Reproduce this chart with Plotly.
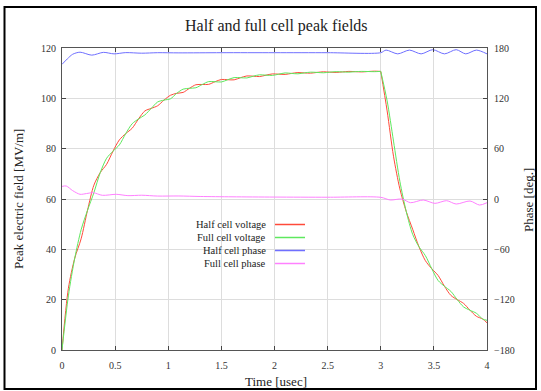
import plotly.graph_objects as go

# ---------------- data ----------------
time_v = [0.00, 0.06, 0.12, 0.18, 0.24, 0.30, 0.36, 0.42, 0.48, 0.54,
          0.60, 0.66, 0.72, 0.78, 0.84, 0.90, 0.96, 1.02, 1.08, 1.14,
          1.20, 1.26, 1.32, 1.38, 1.44, 1.50, 1.56, 1.62, 1.68, 1.74,
          1.80, 1.86, 1.92, 1.98, 2.04, 2.10, 2.16, 2.22, 2.28, 2.34,
          2.40, 2.46, 2.52, 2.58, 2.64, 2.70, 2.76, 2.82, 2.88, 2.94,
          3.00, 3.06, 3.12, 3.18, 3.24, 3.30, 3.36, 3.42, 3.48, 3.54,
          3.60, 3.66, 3.72, 3.78, 3.84, 3.90, 3.96, 4.00]

half_voltage = [0, 24.5, 36.5, 44.2, 55.5, 65.5, 70.5, 73.8, 79, 83.5,
                86, 88.1, 91.8, 95.0, 96, 97.05, 99.3, 101.2, 102, 102.35,
                104, 105.4, 105.5, 105.55, 106.6, 107.5, 107.4, 107.35, 108.2, 108.9,
                108.8, 108.65, 109.2, 109.7, 109.6, 109.5, 109.9, 110.25, 110.1, 110.0,
                110.3, 110.55, 110.4, 110.3, 110.5, 110.7, 110.6, 110.5, 110.65, 110.8,
                110.7, 95, 77, 64, 55, 48, 41, 35.5, 32.3, 29.6,
                25.3, 21.7, 20, 18.5, 15.8, 13.4, 12.3, 10.8]

full_voltage = [0, 21.5, 36.5, 47.8, 55.5, 62.5, 70.5, 76.2, 79, 81.5,
                86, 89.9, 91.8, 93.4, 96, 98.55, 99.3, 99.8, 102, 103.65,
                104, 104.2, 105.5, 106.65, 106.6, 106.5, 107.4, 108.25, 108.2, 108.1,
                108.8, 109.35, 109.2, 109.1, 109.6, 110.1, 109.9, 109.75, 110.1, 110.4,
                110.3, 110.15, 110.4, 110.6, 110.5, 110.4, 110.6, 110.7, 110.65, 110.6,
                110.7, 99, 83, 67, 55, 46, 41, 37.5, 32.3, 27.6,
                25.3, 23.3, 20, 17.1, 15.8, 14.6, 12.3, 11.8]

half_phase_t = [0, 0.05, 0.1, 0.17, 0.28, 0.39, 0.49, 0.6, 0.75, 0.9, 1.1, 1.5,
                2.0, 2.5, 3.0, 3.05, 3.16, 3.27, 3.38, 3.49, 3.6, 3.71, 3.8, 3.9, 4.0]
half_phase = [160.5, 167, 172.5, 175, 171.5, 174.8, 173, 174.5, 173.8, 174.4, 174.2, 174.4,
              174.4, 174.4, 174.4, 177.5, 173, 177.5, 173, 178, 173, 178, 173, 177.5, 173]

full_phase_t = [0, 0.04, 0.1, 0.17, 0.23, 0.295, 0.38, 0.51, 0.62, 0.75, 0.9, 1.1, 1.3,
                1.6, 2.0, 2.5, 3.0, 3.09, 3.2, 3.28, 3.4, 3.51, 3.62, 3.71, 3.84, 3.93, 4.0]
full_phase = [15, 15.5, 10, 5.6, 6.5, 7.5, 4.4, 5.6, 4.0, 4.5, 3.5, 3.6, 3.0,
              2.6, 2.3, 2.1, 2.0, -1.2, 0, -4.4, -1.2, -5.2, -2.0, -6.0, -2.4, -7.2, -4.4]

x_ticks = [0, 0.5, 1, 1.5, 2, 2.5, 3, 3.5, 4]
y_ticks = [0, 20, 40, 60, 80, 100, 120]
y2_ticks = [-180, -120, -60, 0, 60, 120, 180]

series_names = ["Half cell voltage", "Full cell voltage", "Half cell phase", "Full cell phase"]
series_colors = ["#ff4a3a", "#5ee85e", "#6f6fff", "#ff80ff"]

FONT = "Liberation Serif, Times New Roman, serif"

# ---------------- figure ----------------
fig = go.Figure()
split = time_v.index(3.00)
for vals, col in ((half_voltage, series_colors[0]), (full_voltage, series_colors[1])):
    for a, b in ((0, split + 1), (split, len(time_v))):
        fig.add_trace(go.Scatter(x=time_v[a:b], y=vals[a:b], mode="lines",
                                 line=dict(color=col, width=1, shape="spline", smoothing=0.8),
                                 showlegend=False, hoverinfo="skip"))

fig.add_trace(go.Scatter(x=half_phase_t, y=half_phase, mode="lines", yaxis="y2",
                         line=dict(color=series_colors[2], width=1, shape="spline", smoothing=0.8),
                         showlegend=False))
fig.add_trace(go.Scatter(x=full_phase_t, y=full_phase, mode="lines", yaxis="y2",
                         line=dict(color=series_colors[3], width=1, shape="spline", smoothing=0.8),
                         showlegend=False))

W, H = 541, 391
L, R, T, B = 62, 487, 48, 350
pw, ph = R - L, B - T


def px(xp):
    return (xp - L) / pw


def py(yp):
    return (B - yp) / ph


axis_common = dict(ticks="inside", ticklen=4, tickcolor="#444", linecolor="#555",
                   linewidth=1, showline=True, zeroline=False,
                   tickfont=dict(family=FONT, size=10, color="#333"))

fig.update_layout(
    width=W, height=H,
    margin=dict(l=L, r=W - R, t=T, b=H - B),
    paper_bgcolor="white", plot_bgcolor="white",
    showlegend=False,
    font=dict(family=FONT, color="#222"),
    xaxis=dict(range=[0, 4], tickvals=x_ticks, ticktext=[f"{v:g}" for v in x_ticks],
               showgrid=True, gridcolor="#dddddd", gridwidth=1, mirror="ticks",
               ticklabelstandoff=6, **axis_common),
    yaxis=dict(range=[0, 120], tickvals=y_ticks, showgrid=True, gridcolor="#dddddd",
               gridwidth=1, mirror=False, ticklabelstandoff=3, **axis_common),
    yaxis2=dict(range=[-180, 180], tickvals=y2_ticks, overlaying="y", side="right",
                showgrid=False, ticklabelstandoff=4, **axis_common),
)

shapes = []
# outer frame
shapes.append(dict(type="rect", xref="paper", yref="paper",
                   x0=px(4.5), x1=px(536), y0=py(389), y1=py(7),
                   line=dict(color="black", width=2), fillcolor="rgba(0,0,0,0)", layer="above"))
# legend background (blanks the grid)
shapes.append(dict(type="rect", xref="paper", yref="paper",
                   x0=px(163), x1=px(311), y0=py(272), y1=py(215),
                   line=dict(width=0), fillcolor="white", layer="between"))

annotations = []
rows = [224.5, 237.5, 250.5, 263.5]
for name, col, yr in zip(series_names, series_colors, rows):
    shapes.append(dict(type="line", xref="paper", yref="paper",
                       x0=px(275), x1=px(305), y0=py(yr), y1=py(yr),
                       line=dict(color=col, width=1.5)))
    annotations.append(dict(text=name, xref="paper", yref="paper", x=px(268), y=py(yr),
                            xanchor="right", yanchor="middle", showarrow=False,
                            font=dict(family=FONT, size=10.5, color="#222")))

annotations += [
    dict(text="Half and full cell peak fields", xref="paper", yref="paper",
         x=px(276), y=py(26), xanchor="center", yanchor="middle", showarrow=False,
         font=dict(family=FONT, size=16, color="#222")),
    dict(text="Time [usec]", xref="paper", yref="paper",
         x=px(276), y=py(381), xanchor="center", yanchor="middle", showarrow=False,
         font=dict(family=FONT, size=13, color="#222")),
    dict(text="Peak electric field [MV/m]", xref="paper", yref="paper",
         x=px(18), y=py(199), xanchor="center", yanchor="middle", showarrow=False,
         textangle=-90, font=dict(family=FONT, size=13, color="#222")),
    dict(text="Phase [deg.]", xref="paper", yref="paper",
         x=px(528), y=py(200), xanchor="center", yanchor="middle", showarrow=False,
         textangle=-90, font=dict(family=FONT, size=13, color="#222")),
]

fig.update_layout(shapes=shapes, annotations=annotations)
fig.write_html("out.html")
